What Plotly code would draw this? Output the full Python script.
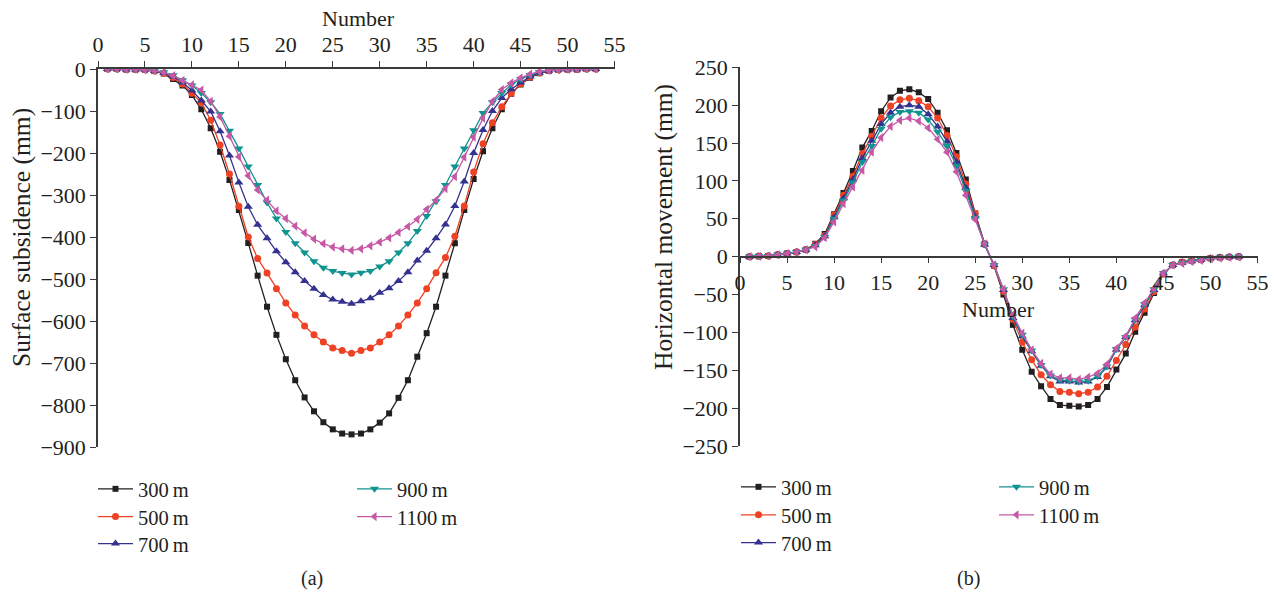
import plotly.graph_objects as go

W, H = 1274, 595

x = list(range(1, 54))

labels = ["300\u2009m", "500\u2009m", "700\u2009m", "900\u2009m", "1100\u2009m"]
colors = ["#231f20", "#ef4123", "#35318f", "#0f948f", "#c658a6"]
symbols = ["square", "circle", "triangle-up", "triangle-down", "triangle-left"]
msizes = [6, 7, 8, 8, 8]

# (a) Surface subsidence (mm)
sub_300 = [0, 0, -1, -1, -2, -5, -11, -24, -39, -62, -96, -141, -197, -264, -336, -414, -492, -566,
           -633, -691, -741, -782, -815, -841, -858, -868, -870, -868, -858, -842, -820, -783, -741,
           -685, -629, -566, -492, -415, -336, -262, -196, -141, -96, -59, -37, -21, -10, -5, -2,
           -1, -1, 0, 0]
sub_500 = [0, 0, -1, -1, -2, -5, -10, -20, -36, -58, -80, -122, -181, -250, -327, -400, -451, -486,
           -523, -557, -586, -612, -633, -650, -664, -670, -677, -670, -664, -650, -633, -612, -586,
           -557, -523, -485, -449, -398, -326, -245, -178, -128, -90, -58, -35, -19, -9, -4, -2,
           -1, -1, 0, 0]
sub_700 = [0, 0, -1, -1, -2, -4, -9, -18, -32, -51, -75, -101, -148, -206, -270, -328, -371, -403,
           -434, -460, -484, -505, -523, -538, -549, -554, -559, -553, -546, -533, -522, -505, -484,
           -456, -433, -403, -370, -326, -268, -200, -145, -100, -69, -48, -32, -18, -9, -4, -2,
           -1, -1, 0, 0]
sub_900 = [0, 0, -1, -1, -2, -4, -8, -15, -27, -39, -57, -79, -107, -147, -189, -232, -276, -318,
           -356, -388, -415, -437, -458, -473, -481, -486, -489, -485, -481, -470, -458, -437, -415,
           -386, -350, -315, -276, -232, -189, -146, -105, -79, -57, -37, -24, -14, -7, -3, -2,
           -1, 0, 0, 0]
sub_1100 = [0, 0, -1, -1, -2, -4, -8, -16, -27, -38, -50, -77, -114, -160, -209, -254, -288, -312,
            -338, -356, -374, -390, -405, -416, -424, -428, -432, -428, -421, -412, -402, -389, -375,
            -358, -334, -312, -285, -256, -210, -162, -117, -77, -49, -33, -21, -12, -6, -3, -2,
            -1, 0, 0, 0]

# (b) Horizontal movement (mm)
hor_300 = [0, 0.5, 1, 2.5, 4, 6, 9, 17, 30, 56, 84, 113, 144, 166, 192, 210, 219, 221, 217, 208,
           190, 167, 137, 102, 57, 17, -12, -50, -90, -123, -152, -171, -188, -196, -197, -198,
           -196, -188, -172, -149, -128, -99, -74, -48, -23, -11, -7, -5, -4, -2, -1, -0.5, 0]
hor_500 = [0, 0.5, 1, 2.5, 4, 6, 9, 16, 28, 55, 81, 106, 136, 159, 183, 199, 207, 209, 206, 198,
           183, 160, 132, 96, 57, 16, -12, -46, -83, -113, -136, -156, -169, -178, -179, -181,
           -179, -172, -158, -137, -116, -93, -69, -46, -23, -11, -7, -5, -4, -2, -1, -0.5, 0]
hor_700 = [0, 0.5, 1, 2.5, 4, 6, 9, 15, 27, 52, 77, 102, 130, 153, 175, 190, 198, 200, 198, 188,
           172, 152, 125, 91, 53, 16, -11, -44, -81, -105, -125, -144, -158, -165, -165, -166,
           -165, -159, -146, -123, -106, -84, -64, -44, -22, -11, -8, -6, -4, -2, -1, -0.5, 0]
hor_900 = [0, 0.5, 1, 2.5, 4, 6, 9, 14, 26, 50, 74, 98, 125, 146, 169, 184, 191, 192, 190, 181,
           165, 146, 120, 87, 51, 16, -11, -43, -79, -103, -124, -143, -157, -163, -164, -165,
           -164, -158, -145, -122, -106, -83, -63, -43, -22, -11, -8, -6, -4, -2, -1, -0.5, 0]
hor_1100 = [0, 0.5, 1, 2.5, 4, 6, 9, 13, 25, 46, 70, 92, 114, 138, 157, 172, 180, 183, 179, 170,
            155, 138, 112, 81, 49, 17, -11, -43, -77, -101, -123, -141, -155, -160, -160, -162,
            -159, -154, -142, -121, -105, -81, -61, -42, -22, -11, -9, -6.6, -5, -3, -2, -1, -0.5]

sub_series = [sub_300, sub_500, sub_700, sub_900, sub_1100]
hor_series = [hor_300, hor_500, hor_700, hor_900, hor_1100]

xticks = list(range(0, 56, 5))
sub_ticks = list(range(-900, 1, 100))
hor_ticks = list(range(-250, 251, 50))

FONT = "Liberation Serif"
TXT = "#231f20"
AX = "#3a3a3a"

def px(v):
    return v / W

def py(v):
    return 1 - v / H

# legend slot per series: (left x of item, row centre y) for panel (a) and (b)
leg_a = [(93, 488), (93, 515.7), (93, 542.7), (352, 488), (352, 515.7)]
leg_b = [(736, 486), (736, 514), (736, 541.7), (994, 486), (994, 514)]
LEGFS = 20.5
row_off = 19

fig = go.Figure()
legends = {}
for i in range(5):
    name = "legend" if i == 0 else f"legend{i + 1}"
    fig.add_trace(go.Scatter(
        x=x, y=sub_series[i], mode="lines+markers", name=labels[i],
        line=dict(color=colors[i], width=1.3),
        marker=dict(symbol=symbols[i], size=msizes[i], color=colors[i]),
        xaxis="x", yaxis="y", legend=name))
    legends[name] = leg_a[i]
for i in range(5):
    name = f"legend{i + 6}"
    fig.add_trace(go.Scatter(
        x=x, y=hor_series[i], mode="lines+markers", name=labels[i],
        line=dict(color=colors[i], width=1.3),
        marker=dict(symbol=symbols[i], size=msizes[i], color=colors[i]),
        xaxis="x2", yaxis="y2", legend=name))
    legends[name] = leg_b[i]

axcommon = dict(showgrid=False, zeroline=False, showline=True, linecolor=AX, linewidth=1.5,
                ticks="outside", ticklen=6, tickwidth=1.3, tickcolor=AX, automargin=False,
                tickfont=dict(family=FONT, size=22, color=TXT))

leg_layout = {}
for name, (lx, ly) in legends.items():
    leg_layout[name] = dict(orientation="v", x=px(lx), y=py(ly - row_off), xanchor="left",
                            yanchor="top", bgcolor="rgba(0,0,0,0)", borderwidth=0,
                            font=dict(family=FONT, size=LEGFS, color=TXT), itemwidth=35)

fig.update_layout(
    width=W, height=H,
    margin=dict(l=0, r=0, t=0, b=0, autoexpand=False),
    paper_bgcolor="white", plot_bgcolor="white",
    font=dict(family=FONT, size=20, color=TXT),
    xaxis=dict(domain=[px(98), px(614.5)], range=[0, 55], tickvals=xticks, side="top",
               anchor="y", **axcommon),
    yaxis=dict(domain=[py(447), py(69)], range=[-900, 0], tickvals=sub_ticks,
               anchor="x", **axcommon),
    xaxis2=dict(domain=[px(740), px(1257.5)], range=[0, 55], tickvals=xticks, side="bottom",
                anchor="free", position=py(256.7), **axcommon),
    yaxis2=dict(domain=[py(446), py(67.3)], range=[-250, 250], tickvals=hor_ticks,
                anchor="x2", **axcommon),
    showlegend=True,
    **leg_layout,
)

ann = [
    dict(text="Number", x=px(358), y=py(18), size=22),
    dict(text="Number", x=px(998), y=py(309), size=22),
    dict(text="Surface subsidence (mm)", x=px(21), y=py(238), textangle=-90, size=25.5),
    dict(text="Horizontal movement (mm)", x=px(663), y=py(227), textangle=-90, size=25.5),
    dict(text="(a)", x=px(312), y=py(578), size=20),
    dict(text="(b)", x=px(968), y=py(578), size=20),
]
for a in ann:
    s = a.pop("size")
    fig.add_annotation(xref="paper", yref="paper", showarrow=False, xanchor="center",
                       yanchor="middle", font=dict(family=FONT, size=s, color=TXT), **a)

fig.write_html("out.html")
